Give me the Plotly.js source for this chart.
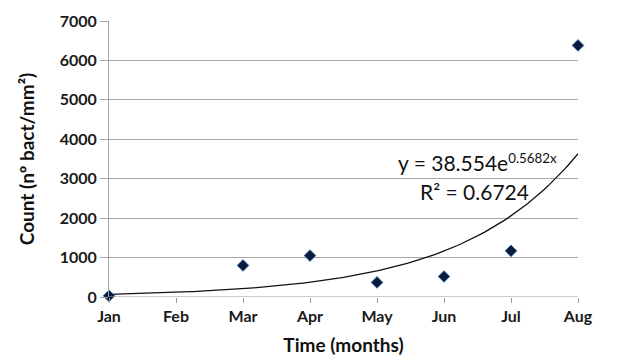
<!DOCTYPE html>
<html><head><meta charset="utf-8">
<script src="https://cdn.plot.ly/plotly-3.0.1.min.js"></script>
<style>html,body{margin:0;padding:0;background:#fff}#chart{width:644px;height:363px}</style>
</head><body><div id="chart"></div>
<script>
const months = ["Jan","Feb","Mar","Apr","May","Jun","Jul","Aug"];
const monthIndex = [1,2,3,4,5,6,7,8];
const counts = [30, null, 800, 1050, 370, 520, 1170, 6380];
const trendA = 38.554;
const trendB = 0.5682;

const tx = [], ty = [];
for (let i = 0; i <= 140; i++) { const x = 1 + i*7/140; tx.push(x); ty.push(trendA*Math.exp(trendB*x)); }

const F = "Lato, 'Open Sans', sans-serif";
const data = [
  {x: tx, y: ty, mode: 'lines', line: {color: '#111', width: 1.3}, hoverinfo: 'skip', cliponaxis: false},
  {x: monthIndex, y: counts, mode: 'markers', marker: {symbol: 'diamond', size: 9, color: '#0a1a3c', line: {color: '#2a6fb0', width: 0.8}}, cliponaxis: false}
];
const layout = {
  width: 644, height: 363, showlegend: false,
  paper_bgcolor: '#fff', plot_bgcolor: '#fff',
  margin: {l: 109, r: 66, t: 21, b: 66},
  xaxis: {range: [1, 8], tickvals: monthIndex, ticktext: months, showgrid: false, zeroline: false,
    showline: false, ticks: 'outside', ticklen: 5, tickcolor: '#999', tickwidth: 1,
    tickfont: {family: F, size: 16, color: '#1a1a1a', weight: 'bold'},
    title: {text: 'Time (months)', font: {family: F, size: 19, color: '#111', weight: 'bold'}, standoff: 14}},
  yaxis: {range: [0, 7000], tickvals: [0,1000,2000,3000,4000,5000,6000,7000], showgrid: true, gridcolor: '#a6a6a6', gridwidth: 1,
    zeroline: false, showline: true, linecolor: '#a6a6a6', ticks: 'outside', ticklen: 8, tickcolor: '#a6a6a6',
    tickfont: {family: F, size: 16, color: '#1a1a1a', weight: 'bold'},
    title: {text: 'Count (nº bact/mm²)', font: {family: F, size: 19, color: '#111', weight: 'bold'}, standoff: 20}},
  shapes: [{type: 'line', xref: 'paper', yref: 'y', x0: 0, x1: 1, y0: 0, y1: 0, line: {color: '#999', width: 1.2}}],
  annotations: [
    {xref: 'x', yref: 'y', x: 6.5, y: 3420, text: 'y = 38.554e<span style="font-size:19px"><sup>0.5682x</sup></span>', showarrow: false, font: {family: F, size: 21, color: '#111'}},
    {xref: 'x', yref: 'y', x: 6.46, y: 2680, text: 'R² = 0.6724', showarrow: false, font: {family: F, size: 21, color: '#111'}}
  ]
};
Plotly.newPlot('chart', data, layout, {displayModeBar: false, staticPlot: true});
</script></body></html>
